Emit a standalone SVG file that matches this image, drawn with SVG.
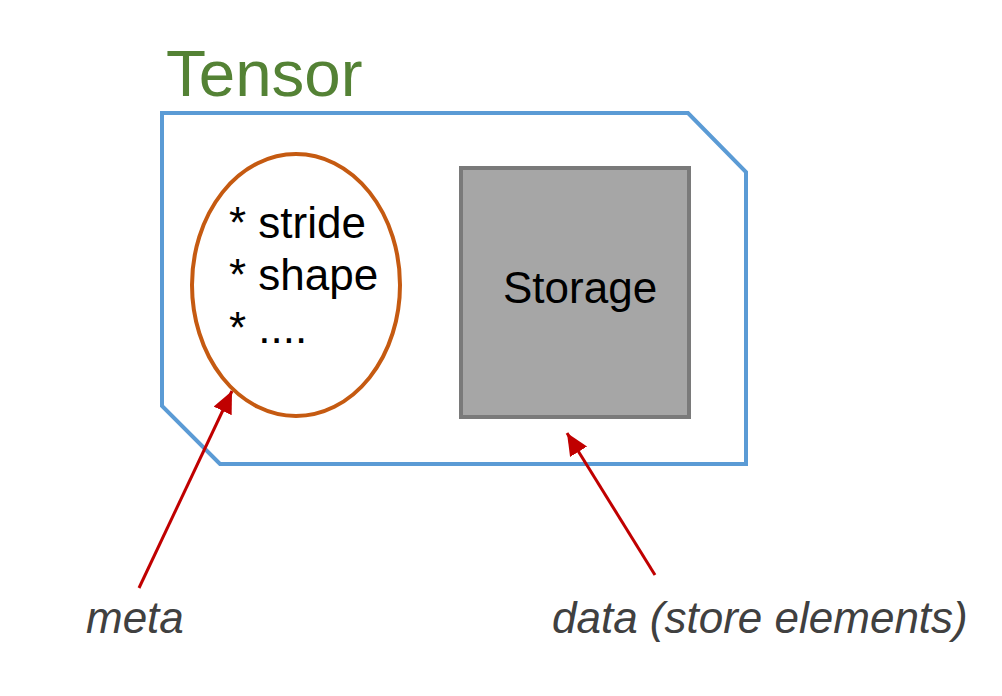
<svg xmlns="http://www.w3.org/2000/svg" width="1002" height="696" viewBox="0 0 1002 696">
<style>
.t{font-family:"Liberation Sans",Arial,sans-serif;}
.lbl{font-size:44px;fill:#000;}
.cap{font-size:44px;font-style:italic;fill:#404040;}
.conn{stroke:#c00000;stroke-width:3;fill:none;marker-end:url(#ah);}
</style>
<defs>
<marker id="ah" markerUnits="userSpaceOnUse" markerWidth="24" markerHeight="22" refX="22" refY="10" orient="auto">
<path d="M0,0 L22,10 L0,20 Z" fill="#c00000"/>
</marker>
</defs>
<rect width="1002" height="696" fill="#fff"/>
<g id="tensor">
<polygon points="162,113 688,113 746,172 746,464 220,464 162,406" fill="none" stroke="#5b9bd5" stroke-width="4"/>
<text class="t" x="166" y="96" font-size="65.5" fill="#548235">Tensor</text>
</g>
<g id="meta-node">
<ellipse cx="296" cy="285" rx="104" ry="131" fill="#fff" stroke="#c55a11" stroke-width="4"/>
<text class="t lbl" x="229" y="238">* stride</text>
<text class="t lbl" x="229" y="290">* shape</text>
<text class="t lbl" x="229" y="343">* ....</text>
</g>
<g id="storage">
<rect x="461" y="168" width="228" height="249" fill="#a6a6a6" stroke="#7a7a7a" stroke-width="4"/>
<text class="t lbl" x="503" y="303">Storage</text>
</g>
<g id="connectors">
<line class="conn" x1="139" y1="588" x2="232" y2="391"/>
<line class="conn" x1="655" y1="575" x2="567" y2="433"/>
</g>
<g id="captions">
<text class="t cap" x="86" y="633">meta</text>
<text class="t cap" x="552" y="633">data (store elements)</text>
</g>
</svg>
